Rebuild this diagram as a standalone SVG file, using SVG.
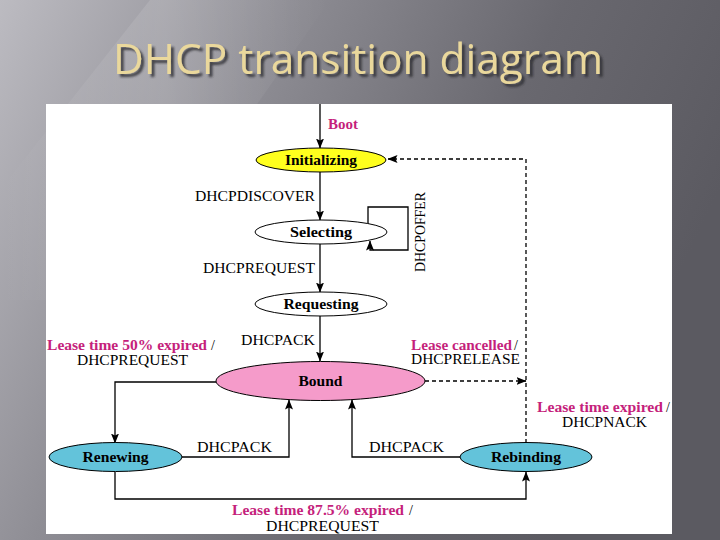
<svg xmlns="http://www.w3.org/2000/svg" width="720" height="540" viewBox="0 0 720 540">
<defs>
<linearGradient id="bg" x1="0" y1="0" x2="1" y2="0.35">
<stop offset="0" stop-color="#bcbbc1"/>
<stop offset="0.35" stop-color="#8f8e95"/>
<stop offset="0.7" stop-color="#69686f"/>
<stop offset="1" stop-color="#5b5a61"/>
</linearGradient>
<linearGradient id="streak" x1="0" y1="0" x2="1" y2="0">
<stop offset="0" stop-color="#ffffff" stop-opacity="0"/>
<stop offset="0.5" stop-color="#ffffff" stop-opacity="0.12"/>
<stop offset="1" stop-color="#ffffff" stop-opacity="0"/>
</linearGradient>
<filter id="shadow" x="-5%" y="-20%" width="110%" height="150%">
<feDropShadow dx="3" dy="3" stdDeviation="0.8" flood-color="#2a292f" flood-opacity="0.8"/>
</filter>
<marker id="arr" markerWidth="10" markerHeight="8" refX="9.5" refY="4" orient="auto" markerUnits="userSpaceOnUse">
<path d="M0,0 L10,4 L0,8 L2,4 z" fill="#000"/>
</marker>
</defs>
<style>
.ln{fill:none;stroke:#000;stroke-width:1.3}
.ds{fill:none;stroke:#000;stroke-width:1.3;stroke-dasharray:4,3}
.nd{stroke:#000;stroke-width:1}
.nl{font-family:"Liberation Serif",serif;font-weight:bold;font-size:14px;fill:#000;text-anchor:middle}
.lb{font-family:"Liberation Serif",serif;font-size:14px;fill:#000}
.mg{font-family:"Liberation Serif",serif;font-weight:bold;font-size:14px;fill:#c51f7c}
</style>
<rect x="0" y="0" width="720" height="540" fill="url(#bg)"/>
<polygon points="150,0 330,0 120,300 0,300 0,190" fill="url(#streak)"/>
<g id="title">
<text x="113" y="74" font-family="Open Sans, sans-serif" font-size="42" fill="#ead89c" textLength="490" lengthAdjust="spacingAndGlyphs" filter="url(#shadow)">DHCP transition diagram</text>
</g>
<rect x="46" y="104" width="626" height="430" fill="#ffffff"/>
<g id="connectors">
<path class="ln" d="M320,104 V148" marker-end="url(#arr)"/>
<path class="ln" d="M320,172 V220" marker-end="url(#arr)"/>
<path class="ln" d="M368,224 V207 H408 V250 H370 V241" marker-end="url(#arr)"/>
<path class="ln" d="M320,244 V292" marker-end="url(#arr)"/>
<path class="ln" d="M320,316 V361" marker-end="url(#arr)"/>
<path class="ln" d="M216,382 H115 V443" marker-end="url(#arr)"/>
<path class="ln" d="M182,457 H289 V400" marker-end="url(#arr)"/>
<path class="ln" d="M460,457 H352 V400" marker-end="url(#arr)"/>
<path class="ln" d="M115,472 V499 H526 V472" marker-end="url(#arr)"/>
<path class="ds" d="M425,381 H526" marker-end="url(#arr)"/>
<path class="ds" d="M526,443 V159 H388" marker-end="url(#arr)"/>
</g>
<g id="labels">
<text class="mg" x="328" y="129" textLength="30" lengthAdjust="spacingAndGlyphs">Boot</text>
<text class="lb" x="195" y="201" textLength="120" lengthAdjust="spacingAndGlyphs">DHCPDISCOVER</text>
<text class="lb" x="425" y="272" transform="rotate(-90 425 272)" textLength="80" lengthAdjust="spacingAndGlyphs">DHCPOFFER</text>
<text class="lb" x="203" y="273" textLength="112" lengthAdjust="spacingAndGlyphs">DHCPREQUEST</text>
<text class="lb" x="241" y="345" textLength="74" lengthAdjust="spacingAndGlyphs">DHCPACK</text>
<text class="mg" x="47" y="350" textLength="160" lengthAdjust="spacingAndGlyphs">Lease time 50% expired</text>
<text class="lb" x="211" y="350">/</text>
<text class="lb" x="77" y="365" textLength="111" lengthAdjust="spacingAndGlyphs">DHCPREQUEST</text>
<text class="mg" x="411" y="350" textLength="101" lengthAdjust="spacingAndGlyphs">Lease cancelled</text>
<text class="lb" x="514" y="350">/</text>
<text class="lb" x="411" y="364" textLength="109" lengthAdjust="spacingAndGlyphs">DHCPRELEASE</text>
<text class="mg" x="537" y="412" textLength="126" lengthAdjust="spacingAndGlyphs">Lease time expired</text>
<text class="lb" x="666" y="412">/</text>
<text class="lb" x="562" y="427" textLength="85" lengthAdjust="spacingAndGlyphs">DHCPNACK</text>
<text class="lb" x="197" y="452" textLength="75" lengthAdjust="spacingAndGlyphs">DHCPACK</text>
<text class="lb" x="369" y="452" textLength="75" lengthAdjust="spacingAndGlyphs">DHCPACK</text>
<text class="mg" x="232" y="515" textLength="172" lengthAdjust="spacingAndGlyphs">Lease time 87.5% expired</text>
<text class="lb" x="409" y="515">/</text>
<text class="lb" x="266" y="531" textLength="113" lengthAdjust="spacingAndGlyphs">DHCPREQUEST</text>
</g>
<g id="initializing">
<ellipse class="nd" cx="321" cy="160" rx="65" ry="12" fill="#ffff1e"/>
<text class="nl" x="321" y="165" textLength="72" lengthAdjust="spacingAndGlyphs">Initializing</text>
</g>
<g id="selecting">
<ellipse class="nd" cx="321" cy="232" rx="66" ry="12" fill="#ffffff"/>
<text class="nl" x="321" y="237" textLength="62" lengthAdjust="spacingAndGlyphs">Selecting</text>
</g>
<g id="requesting">
<ellipse class="nd" cx="321" cy="304" rx="66" ry="12" fill="#ffffff"/>
<text class="nl" x="321" y="309" textLength="75" lengthAdjust="spacingAndGlyphs">Requesting</text>
</g>
<g id="bound">
<ellipse class="nd" cx="320.5" cy="381" rx="104.5" ry="19.5" fill="#f59bca"/>
<text class="nl" x="320.5" y="386" textLength="44" lengthAdjust="spacingAndGlyphs">Bound</text>
</g>
<g id="renewing">
<ellipse class="nd" cx="115.5" cy="457" rx="66.5" ry="14.5" fill="#63c3da"/>
<text class="nl" x="115.5" y="462" textLength="66" lengthAdjust="spacingAndGlyphs">Renewing</text>
</g>
<g id="rebinding">
<ellipse class="nd" cx="526" cy="457" rx="66" ry="14.5" fill="#63c3da"/>
<text class="nl" x="526" y="462" textLength="70" lengthAdjust="spacingAndGlyphs">Rebinding</text>
</g>
</svg>
